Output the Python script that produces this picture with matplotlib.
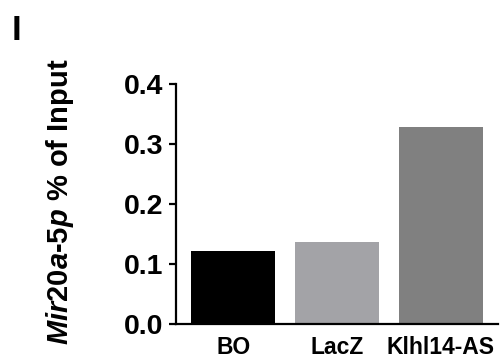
#!/usr/bin/env python3

import matplotlib
import matplotlib.pyplot as plt
import numpy as np

matplotlib.use("Agg")

groups = ["BO", "LacZ", "Klhl14-AS"]
values = [0.122, 0.137, 0.328]
bar_colors = ["#000000", "#a3a3a7", "#808080"]
y_ticks = [0.0, 0.1, 0.2, 0.3, 0.4]


def main() -> None:
    plt.rcParams.update({
        "font.family": "Liberation Sans",
        "font.weight": "bold",
        "mathtext.fontset": "custom",
        "mathtext.it": "Liberation Sans:italic:bold",
        "mathtext.rm": "Liberation Sans:bold",
    })

    fig = plt.figure(figsize=(5, 3.61), dpi=100)
    ax = fig.add_axes([0.352, 0.1025, 0.644, 0.6645])

    x = np.arange(len(groups))
    ax.bar(x, values, width=0.81, color=bar_colors)

    ax.set_xlim(-0.55, 2.55)
    ax.set_ylim(0, 0.4)
    ax.set_yticks(y_ticks)
    ax.set_yticklabels([f"{v:.1f}" for v in y_ticks])
    ax.set_xticks(x)
    ax.set_xticklabels(groups)

    for side in ["top", "right"]:
        ax.spines[side].set_visible(False)
    for side in ["left", "bottom"]:
        ax.spines[side].set_linewidth(1.6)

    ax.tick_params(axis="y", labelsize=20.5, width=1.6, length=5, pad=4)
    ax.tick_params(axis="x", labelsize=16.5, length=0, pad=9)

    ax.set_ylabel(r"$\mathit{Mir20a}$-$\mathit{5p}$ % of Input",
                  fontsize=21, fontweight="bold")
    ax.yaxis.set_label_coords(-0.31, 0.51)

    fig.text(0.024, 0.89, "I", fontsize=25, fontweight="bold")

    fig.savefig("out.png", dpi=100)


if __name__ == "__main__":
    main()
